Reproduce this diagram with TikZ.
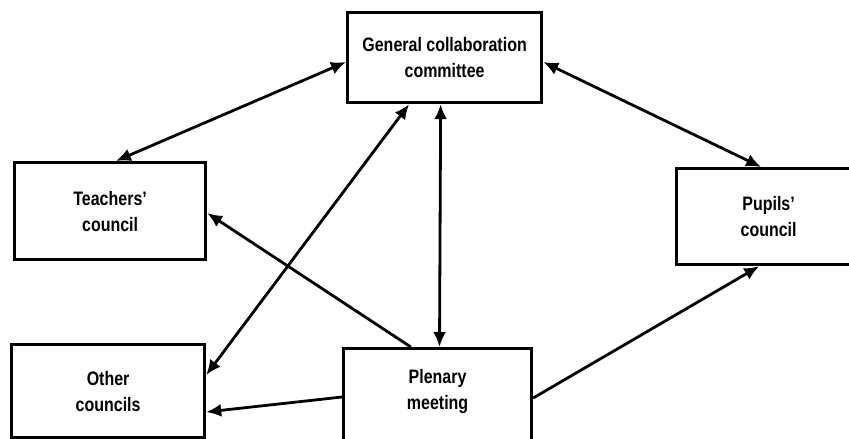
\documentclass[tikz,border=0pt]{standalone}
\usepackage{fontspec}
\setmainfont{Liberation Sans}[FakeStretch=0.82]
\usetikzlibrary{arrows.meta,calc}

\begin{document}
\begin{tikzpicture}[x=1pt,y=-1pt]
  % Styles
  \tikzstyle{council}=[draw,line width=3.2pt,rectangle,anchor=north west,
    align=center,font=\fontsize{19.5}{26}\selectfont\bfseries]
  \tikzstyle{link}=[line width=2.8pt,-{Latex[length=15pt,width=13pt]}]
  \tikzstyle{both link}=[link,{Latex[length=15pt,width=13pt]}-{Latex[length=15pt,width=13pt]}]

  \useasboundingbox (0,0) rectangle (849,439);

  % The boxes
  \node[council,minimum width=194pt,minimum height=90pt] (gcc) at (346,11)
    {General collaboration\\committee};
  \node[council,minimum width=191pt,minimum height=97pt] (teach) at (13,161)
    {Teachers'\\council};
  \node[council,minimum width=184pt,minimum height=96pt] (pup) at (675,167)
    {Pupils'\\council};
  \node[council,minimum width=193pt,minimum height=93pt] (other) at (10,343)
    {Other\\councils};
  \node[council,minimum width=188pt,inner ysep=21pt,text depth=70pt] (plen) at (342,347)
    {Plenary\\meeting};

  % The links
  \draw[both link] ($(teach.north west)!0.53!(teach.north east)$) -- ([yshift=-51pt]gcc.north west);
  \draw[both link] ([yshift=-51pt]gcc.north east) -- ($(pup.north west)!0.46!(pup.north east)$);
  \draw[both link] ($(gcc.south west)!0.48!(gcc.south east)$) -- ($(plen.north west)!0.51!(plen.north east)$);
  \draw[both link] ($(gcc.south west)!0.32!(gcc.south east)$) -- ([yshift=-32pt]other.north east);

  \draw[link] ($(plen.north west)!0.36!(plen.north east)$) -- ([yshift=-52pt]teach.north east);
  \draw[link] ([yshift=-50pt]plen.north west) -- ([yshift=-69pt]other.north east);
  \draw[link] ([yshift=-51pt]plen.north east) -- ($(pup.south west)!0.45!(pup.south east)$);
\end{tikzpicture}
\end{document}
